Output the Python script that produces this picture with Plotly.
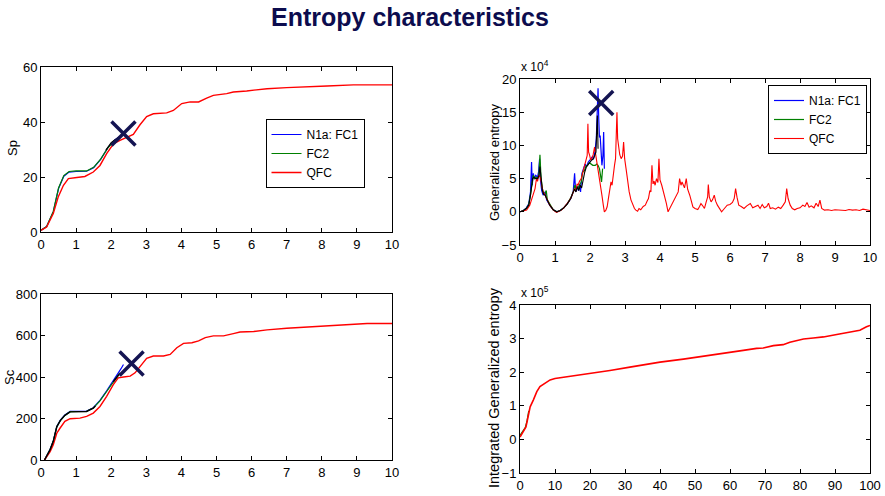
import plotly.graph_objects as go

# ---------------- Data ----------------
# Top-left: Sp vs time
sp_qfc_x = [0, 0.16, 0.35, 0.49, 0.64, 0.78, 1.02, 1.25, 1.49, 1.68, 1.87, 2.06, 2.25, 2.44, 2.63, 2.82, 3.01,
            3.2, 3.58, 3.77, 4.01, 4.25, 4.49, 4.72, 4.91, 5.29, 5.48, 5.86, 6.25, 6.44, 7.0, 7.58, 8.15, 8.9, 10]
sp_qfc_y = [0.6, 1.8, 6.7, 12.7, 17.0, 19.4, 19.8, 20.2, 21.8, 24.2, 28.5, 32.0, 33.3, 34.3, 35.5, 39.0, 42.0,
            43.0, 43.3, 44.2, 46.7, 47.3, 47.3, 48.7, 49.7, 50.3, 50.9, 51.3, 51.8, 52.1, 52.5, 52.7, 53.1, 53.5, 53.5]
sp_fc2_x = [0, 0.16, 0.35, 0.5, 0.65, 0.8, 1.0, 1.3, 1.5, 1.7, 1.9, 2.0, 2.1, 2.2]
sp_fc2_y = [0.6, 2.0, 7.5, 16.0, 20.5, 22.0, 22.2, 22.2, 23.5, 26.5, 30.5, 32.0, 33.3, 34.0]
sp_fc1_x = [0, 0.16, 0.35, 0.5, 0.65, 0.8, 1.0, 1.3, 1.5, 1.7, 1.9, 2.0, 2.1, 2.2, 2.3]
sp_fc1_y = [0.6, 2.0, 7.3, 15.8, 20.3, 21.8, 22.0, 22.1, 23.4, 26.4, 30.6, 32.2, 33.5, 34.4, 35.0]
sp_blk_x = [1.85, 1.9, 2.0, 2.1, 2.2]
sp_blk_y = [29.8, 30.8, 32.5, 33.5, 34.3]

# Top-right: generalized entropy (x 1e4)
ge_qfc_x = [0.00, 0.10, 0.19, 0.28, 0.33, 0.38, 0.43, 0.47, 0.50, 0.54, 0.58, 0.62, 0.66, 0.71, 0.76, 0.80, 0.85,
            0.95, 1.04, 1.10, 1.18, 1.25, 1.32, 1.40, 1.47, 1.52, 1.56, 1.60, 1.63, 1.66, 1.70, 1.75, 1.79, 1.84,
            1.89, 1.92, 1.94, 1.96, 1.99, 2.02, 2.05, 2.09, 2.13, 2.16, 2.20, 2.24, 2.27, 2.31, 2.34, 2.38, 2.41,
            2.45, 2.49, 2.52, 2.55, 2.58, 2.60, 2.63, 2.66, 2.70, 2.73, 2.75, 2.77, 2.79, 2.82, 2.85, 2.89, 2.93,
            2.96, 2.99, 3.03, 3.08, 3.12, 3.17, 3.22, 3.27, 3.31, 3.36, 3.40, 3.45, 3.52, 3.58, 3.63, 3.67, 3.71,
            3.74, 3.77, 3.80, 3.83, 3.86, 3.90, 3.94, 3.97, 4.00, 4.05, 4.09, 4.14, 4.18, 4.23, 4.28, 4.33, 4.40,
            4.47, 4.52, 4.56, 4.60, 4.63, 4.66, 4.70, 4.75, 4.79, 4.85, 4.90, 4.94, 5.00, 5.08, 5.13, 5.17, 5.22,
            5.27, 5.32, 5.36, 5.38, 5.41, 5.46, 5.50, 5.55, 5.59, 5.64, 5.70, 5.76, 5.84, 5.92, 6.00, 6.07, 6.12,
            6.16, 6.20, 6.25, 6.32, 6.40, 6.48, 6.58, 6.65, 6.73, 6.80, 6.86, 6.92, 6.98, 7.05, 7.10, 7.15, 7.22,
            7.30, 7.38, 7.45, 7.52, 7.58, 7.62, 7.66, 7.72, 7.78, 7.85, 7.92, 8.00, 8.08, 8.14, 8.20, 8.26, 8.32,
            8.40, 8.46, 8.52, 8.57, 8.62, 8.70, 8.80, 8.90, 9.00, 9.10, 9.20, 9.30, 9.40, 9.50, 9.60, 9.70, 9.80,
            9.90, 10.00]
ge_qfc_y = [0.0, 0.1, 0.25, 1.0, 1.8, 2.75, 3.5, 5.0, 4.6, 5.5, 5.2, 4.0, 3.0, 2.6, 2.0, 1.5, 1.0,
            0.3, -0.1, 0.05, 0.25, 0.6, 1.0, 1.6, 2.25, 3.0, 3.5, 3.1, 4.2, 4.0, 4.6, 5.0, 5.8, 6.5,
            7.5, 8.5, 13.25, 9.0, 8.5, 7.8, 8.0, 8.6, 9.75, 8.8, 7.5, 6.0, 5.0, 3.6, 2.5, 1.0, 0.0,
            0.2, 0.75, 1.8, 3.0, 3.4, 4.5, 4.0, 5.6, 7.0, 8.0, 10.5, 15.0, 11.0, 9.5, 8.6, 8.0, 8.4,
            10.5, 8.0, 6.5, 4.5, 3.0, 1.8, 1.0, 0.5, 0.25, 0.1, 0.5, 0.3, 0.8, 1.0, 1.6, 2.0, 3.2,
            3.0, 7.0, 4.2, 4.6, 4.0, 5.0, 4.4, 8.0, 4.8, 4.0, 3.2, 2.5, 1.3, 0.0, 0.5, 1.0, 1.8,
            2.5, 3.0, 5.0, 4.0, 4.5, 4.2, 3.6, 5.0, 3.4, 2.5, 1.5, 0.75, 0.5, 0.35, 0.8, 1.25, 0.9,
            0.5, 1.5, 2.2, 4.1, 2.2, 1.5, 1.8, 2.5, 1.6, 1.0, 0.5, 0.0, 0.5, 1.0, 1.1, 1.4, 2.0,
            3.5, 2.2, 1.0, 0.8, 0.5, 0.9, 1.25, 0.6, 0.75, 1.0, 0.5, 1.1, 0.6, 0.8, 1.3, 0.5, 0.6,
            0.4, 0.7, 0.5, 1.0, 1.5, 3.5, 2.0, 1.0, 0.5, 0.3, 0.5, 0.6, 1.0, 0.8, 1.4, 0.7, 0.9,
            0.6, 1.3, 0.8, 1.75, 0.5, 0.25, 0.3, 0.2, 0.3, 0.25, 0.3, 0.2, 0.35, 0.25, 0.3, 0.2, 0.4,
            0.3, 0.2]
ge_fc1_x = [0.00, 0.10, 0.18, 0.25, 0.30, 0.33, 0.35, 0.38, 0.41, 0.45, 0.50, 0.53, 0.56, 0.58, 0.62, 0.66,
            0.72, 0.76, 0.85, 0.95, 1.05, 1.15, 1.25, 1.35, 1.45, 1.52, 1.56, 1.59, 1.63, 1.67, 1.70, 1.73,
            1.77, 1.82, 1.86, 1.90, 1.95, 2.00, 2.05, 2.10, 2.14, 2.18, 2.21, 2.23, 2.25, 2.27, 2.29, 2.31,
            2.34, 2.37, 2.39, 2.41]
ge_fc1_y = [0.0, 0.2, 0.6, 1.2, 3.0, 7.5, 4.0, 5.8, 5.0, 5.5, 5.2, 6.0, 8.0, 5.0, 3.2, 2.5,
            3.0, 1.8, 1.0, 0.3, 0.0, 0.2, 0.6, 1.2, 2.0, 3.0, 5.8, 3.0, 3.8, 3.2, 4.2, 3.0,
            5.8, 6.5, 7.2, 6.8, 7.5, 7.8, 8.2, 8.0, 9.0, 11.0, 14.5, 18.6, 14.0, 11.2, 11.5, 9.5,
            7.0, 8.5, 12.0, 6.5]
ge_fc2_x = [0.00, 0.10, 0.18, 0.25, 0.30, 0.34, 0.38, 0.42, 0.46, 0.50, 0.54, 0.57, 0.60, 0.64, 0.68, 0.72,
            0.75, 0.78, 0.85, 0.95, 1.05, 1.15, 1.25, 1.35, 1.45, 1.52, 1.57, 1.61, 1.66, 1.70, 1.75, 1.79,
            1.84, 1.88, 1.93, 1.98, 2.03, 2.08, 2.12, 2.15, 2.19, 2.23, 2.27, 2.30, 2.33, 2.36]
ge_fc2_y = [0.0, 0.2, 0.5, 1.1, 2.6, 4.5, 5.5, 5.0, 5.2, 5.0, 5.6, 8.6, 5.2, 3.5, 2.6, 2.8,
            3.2, 1.8, 1.1, 0.3, 0.0, 0.2, 0.6, 1.2, 2.1, 3.0, 4.0, 3.4, 3.6, 4.0, 4.5, 6.0,
            6.2, 6.8, 7.0, 7.4, 7.2, 7.0, 7.0, 7.0, 7.2, 7.0, 6.5, 5.0, 4.5, 6.5]
ge_blk_x = [0.00, 0.10, 0.18, 0.25, 0.30, 0.33, 0.36, 0.40, 0.45, 0.50, 0.54, 0.57, 0.60, 0.64, 0.68, 0.72,
            0.76, 0.85, 0.95, 1.05, 1.15, 1.25, 1.35, 1.45, 1.52, 1.56, 1.60, 1.64, 1.68, 1.72, 1.76, 1.80,
            1.85, 1.90, 1.95, 2.00, 2.05, 2.10, 2.14, 2.17, 2.19, 2.21, 2.23]
ge_blk_y = [0.0, 0.2, 0.5, 1.0, 2.5, 3.5, 5.0, 5.2, 5.0, 5.0, 5.4, 6.8, 4.6, 3.2, 2.6, 2.5,
            2.0, 1.0, 0.3, 0.0, 0.2, 0.6, 1.2, 2.0, 3.0, 3.4, 3.0, 3.8, 3.2, 4.0, 3.6, 5.0,
            6.0, 6.8, 7.2, 7.5, 7.8, 8.0, 8.6, 9.0, 12.0, 14.5, 9.5]

# Bottom-left: Sc vs time
sc_qfc_x = [0.1, 0.16, 0.26, 0.35, 0.45, 0.54, 0.68, 0.83, 1.11, 1.3, 1.49, 1.68, 1.87, 2.06, 2.2, 2.35, 2.54,
            2.68, 2.82, 3.01, 3.2, 3.49, 3.68, 3.87, 4.06, 4.3, 4.49, 4.68, 4.91, 5.2, 5.48, 5.67, 6.06, 6.44,
            7.0, 7.67, 7.96, 8.34, 8.9, 9.29, 10]
sc_qfc_y = [0, 16, 40, 73, 129, 153, 186, 199, 202, 210, 226, 258, 307, 363, 396, 400, 404,
            420, 449, 490, 501, 501, 509, 541, 562, 565, 574, 590, 598, 598, 609, 617, 619, 627,
            635, 641, 646, 649, 653, 658, 658]
sc_fc2_x = [0.1, 0.16, 0.26, 0.35, 0.45, 0.55, 0.68, 0.83, 1.0, 1.3, 1.49, 1.68, 1.87, 2.06, 2.2, 2.25]
sc_fc2_y = [0, 20, 50, 90, 160, 190, 215, 233, 233, 235, 250, 285, 330, 375, 410, 420]
sc_fc1_x = [0.1, 0.16, 0.26, 0.35, 0.45, 0.55, 0.68, 0.83, 1.0, 1.3, 1.49, 1.68, 1.87, 2.06, 2.2, 2.28, 2.35]
sc_fc1_y = [0, 20, 52, 92, 162, 192, 217, 234, 234, 236, 252, 287, 333, 380, 415, 440, 460]
sc_blk_x = [0.1, 0.16, 0.26, 0.35, 0.45, 0.55, 0.68, 0.83, 1.0, 1.3, 1.49, 1.55, None, 2.06, 2.2, 2.25]
sc_blk_y = [0, 20, 50, 90, 160, 190, 215, 232, 232, 234, 250, 260, None, 377, 410, 418]

# Bottom-right: integrated generalized entropy (x 1e5)
ig_qfc_x = [0, 0.95, 1.7, 2.1, 2.4, 2.9, 3.8, 4.8, 5.7, 7.1, 8.6, 10, 14.3, 20, 25.7, 31.4, 37.1, 40, 46.7,
            52.4, 58.1, 63.8, 67.6, 69.5, 72.4, 75.2, 77.1, 81, 83.8, 86.7, 90.5, 94.3, 97.1, 99, 100]
ig_qfc_y = [0.07, 0.22, 0.37, 0.57, 0.77, 0.97, 1.17, 1.42, 1.57, 1.67, 1.77, 1.81, 1.87, 1.95, 2.05, 2.15, 2.25,
            2.3, 2.39, 2.47, 2.57, 2.65, 2.71, 2.72, 2.79, 2.82, 2.89, 2.99, 3.02, 3.05, 3.12, 3.19, 3.25, 3.35, 3.39]
ig_fc2_x = [0, 0.5, 1.0, 1.5, 2.0, 2.5]
ig_fc2_y = [0.12, 0.2, 0.3, 0.35, 0.55, 0.85]

# Marked points (crosses)
cross_sp = ([2.35], [35.8])
cross_ge = ([2.32], [16.4])
cross_sc = ([2.58], [465])

legend_names = ["N1a: FC1", "FC2", "QFC"]

# ---------------- Figure ----------------
W, H = 885, 496
BLUE, GREEN, RED, NAVY = "#0000ff", "#008000", "#ff0000", "#141452"
FAMILY = "Liberation Sans, Arial, sans-serif"
TICKFONT = dict(family=FAMILY, size=13, color="black")

def px_dom_x(a, b):
    return [a / W, b / W]

def px_dom_y(top, bottom):
    return [1 - bottom / H, 1 - top / H]

fig = go.Figure()

def add_line(x, y, color, ax, name, legend=None, show=False, width=1.2):
    fig.add_trace(go.Scatter(x=x, y=y, mode="lines", line=dict(color=color, width=width),
                             xaxis="x" + ax, yaxis="y" + ax, name=name,
                             showlegend=show, legend=legend, hoverinfo="skip"))

def add_cross(pt, ax):
    fig.add_trace(go.Scatter(x=pt[0], y=pt[1], mode="markers", xaxis="x" + ax, yaxis="y" + ax,
                             marker=dict(symbol="x-thin", size=24, line=dict(color=NAVY, width=3.5)),
                             name="marker", showlegend=False, hoverinfo="skip"))

# Top-left
add_line(sp_fc1_x, sp_fc1_y, BLUE, "", legend_names[0], "legend", True)
add_line(sp_fc2_x, sp_fc2_y, GREEN, "", legend_names[1], "legend", True)
add_line(sp_qfc_x, sp_qfc_y, RED, "", legend_names[2], "legend", True, width=1.4)
add_line(sp_blk_x, sp_blk_y, "black", "", "ref")
add_cross(cross_sp, "")

# Top-right
add_line(ge_fc1_x, ge_fc1_y, BLUE, "2", legend_names[0], "legend2", True)
add_line(ge_fc2_x, ge_fc2_y, GREEN, "2", legend_names[1], "legend2", True)
add_line(ge_qfc_x, ge_qfc_y, RED, "2", legend_names[2], "legend2", True, width=1.1)
add_line(ge_blk_x, ge_blk_y, "black", "2", "ref", width=1.1)
add_cross(cross_ge, "2")

# Bottom-left
add_line(sc_fc1_x, sc_fc1_y, BLUE, "3", legend_names[0])
add_line(sc_fc2_x, sc_fc2_y, GREEN, "3", legend_names[1])
add_line(sc_qfc_x, sc_qfc_y, RED, "3", legend_names[2], width=1.4)
add_line(sc_blk_x, sc_blk_y, "black", "3", "ref", width=1.4)
add_cross(cross_sc, "3")

# Bottom-right
add_line(ig_fc2_x, ig_fc2_y, GREEN, "4", legend_names[1])
add_line(ig_qfc_x, ig_qfc_y, RED, "4", legend_names[2], width=1.6)

def axis_common():
    return dict(showline=True, linecolor="black", linewidth=1, mirror="allticks", ticks="inside",
                ticklen=4, tickcolor="black", showgrid=False, zeroline=False, tickfont=TICKFONT,
                fixedrange=True, automargin=False)

x_dom_l, x_dom_r = px_dom_x(41, 392), px_dom_x(520, 870)
LEGFONT = dict(family=FAMILY, size=12, color="black")

fig.update_layout(
    width=W, height=H, autosize=False,
    margin=dict(l=0, r=0, t=0, b=0, pad=0, autoexpand=False),
    paper_bgcolor="white", plot_bgcolor="white",
    xaxis=dict(domain=x_dom_l, anchor="y", range=[0, 10], dtick=1, **axis_common()),
    yaxis=dict(domain=px_dom_y(67, 232), anchor="x", range=[0, 60], dtick=20, **axis_common()),
    xaxis2=dict(domain=x_dom_r, anchor="y2", range=[0, 10], dtick=1, **axis_common()),
    yaxis2=dict(domain=px_dom_y(79, 245), anchor="x2", range=[-5, 20], dtick=5, **axis_common()),
    xaxis3=dict(domain=x_dom_l, anchor="y3", range=[0, 10], dtick=1, **axis_common()),
    yaxis3=dict(domain=px_dom_y(294, 460), anchor="x3", range=[0, 800], dtick=200, **axis_common()),
    xaxis4=dict(domain=x_dom_r, anchor="y4", range=[0, 100], dtick=10, **axis_common()),
    yaxis4=dict(domain=px_dom_y(305, 473), anchor="x4", range=[-1, 4], dtick=1, **axis_common()),
    legend=dict(x=315 / W, y=1 - 119 / H, xanchor="center", yanchor="top", bgcolor="white",
                bordercolor="black", borderwidth=1, font=LEGFONT, tracegroupgap=0, itemwidth=30),
    legend2=dict(x=867 / W, y=1 - 85 / H, xanchor="right", yanchor="top", bgcolor="white",
                 bordercolor="black", borderwidth=1, font=LEGFONT, tracegroupgap=0, itemwidth=30),
    showlegend=True,
)

def ann(text, xpx, ypx, angle=-90, size=13, anchor="center", bold_font=None):
    return dict(text=text, x=xpx / W, y=1 - ypx / H, xref="paper", yref="paper", showarrow=False,
                xanchor=anchor, yanchor="middle", textangle=angle,
                font=bold_font or dict(family=FAMILY, size=size, color="black"))

fig.update_layout(annotations=[
    ann("<b>Entropy characteristics</b>", 410, 17, angle=0,
        bold_font=dict(family=FAMILY, size=25, color="#0c0c4e")),
    ann("Sp", 13, 148),
    ann("Sc", 9, 377),
    ann("Generalized entropy", 494, 162),
    ann("Integrated Generalized entropy", 494, 388, size=14.5),
    ann("x 10<sup>4</sup>", 519, 66, angle=0, size=12, anchor="left"),
    ann("x 10<sup>5</sup>", 519, 292, angle=0, size=12, anchor="left"),
])

fig.write_html("out.html")
